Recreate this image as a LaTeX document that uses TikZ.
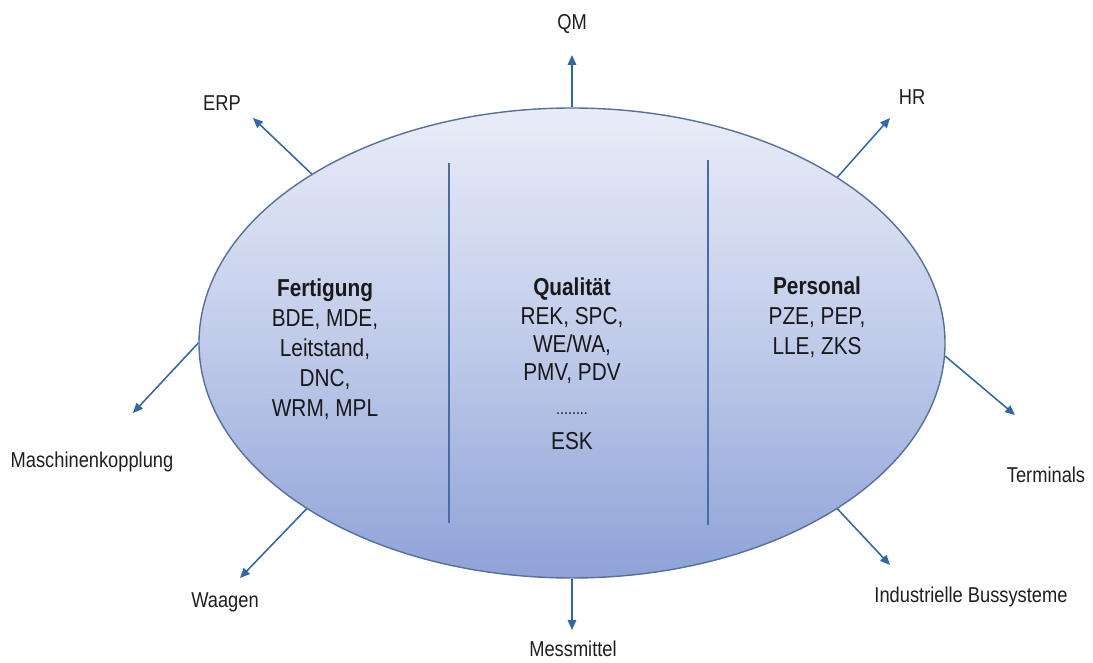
\documentclass[tikz,border=0pt]{standalone}
\usepackage{fontspec}
\setmainfont{Liberation Sans}[FakeStretch=0.85]
\usetikzlibrary{arrows.meta,shapes.geometric}
\definecolor{elltop}{HTML}{E9EDF8}
\definecolor{ellbot}{HTML}{8EA2D8}
\definecolor{ellrim}{HTML}{56709E}
\definecolor{arr}{HTML}{2F68AA}
\definecolor{sep}{HTML}{4A6AA8}
\tikzset{
  lab/.style={font=\fontsize{15.3}{18}\selectfont, inner sep=0pt, anchor=base, text=black!88},
  inn/.style={font=\fontsize{17.4}{20}\selectfont, inner sep=0pt, anchor=base, text=black!90},
  ttl/.style={inn, font=\fontsize{17.4}{20}\selectfont\bfseries},
  conn/.style={draw=arr, line width=1.1pt, -{Triangle[length=7pt,width=6pt]}},
  sepline/.style={draw=sep, line width=1.1pt}
}
\begin{document}
\begin{tikzpicture}[x=0.025cm,y=-0.025cm]
\useasboundingbox (0,0) rectangle (1093,663);
% ellipse
\node[ellipse, minimum width=746*0.025cm, minimum height=470*0.025cm, inner sep=0pt,
      top color=elltop, bottom color=ellbot, middle color=elltop!55!ellbot,
      draw=ellrim, line width=1pt] (ell) at (572,343) {};
% separators
\coordinate (s1a) at (449,163); \coordinate (s1b) at (449,523);
\coordinate (s2a) at (708,160); \coordinate (s2b) at (708,525);
\draw[sepline] (s1a) -- (s1b);
\draw[sepline] (s2a) -- (s2b);
% arrow tips
\coordinate (tQM) at (572,55);
\coordinate (tERP) at (253,118);
\coordinate (tHR) at (890,118);
\coordinate (tMas) at (133,413);
\coordinate (tTer) at (1015,415);
\coordinate (tWaa) at (240,578);
\coordinate (tInd) at (890,565);
\coordinate (tMes) at (572,630);
\draw[conn] (ell.90) -- (tQM);
\draw[conn] (ell.147.5) -- (tERP);
\draw[conn] (ell.32.6) -- (tHR);
\draw[conn] (ell.180) -- (tMas);
\draw[conn] (ell.-2) -- (tTer);
\draw[conn] (ell.212.3) -- (tWaa);
\draw[conn] (ell.-32.9) -- (tInd);
\draw[conn] (ell.270) -- (tMes);
% outer labels
\node[lab] (lQM) at (572,30) {QM};
\node[lab] (lERP) at (222,111) {ERP};
\node[lab] (lHR) at (912,105) {HR};
\node[lab] (lMas) at (92,467) {Maschinenkopplung};
\node[lab] (lTer) at (1046,482) {Terminals};
\node[lab] (lWaa) at (225,607) {Waagen};
\node[lab] (lInd) at (971,602) {Industrielle Bussysteme};
\node[lab] (lMes) at (573,656) {Messmittel};
% Fertigung
\node[ttl] (f0) at (325,296) {Fertigung};
\node[inn] (f1) at (325,326) {BDE, MDE,};
\node[inn] (f2) at (325,356) {Leitstand,};
\node[inn] (f3) at (325,386) {DNC,};
\node[inn] (f4) at (325,416) {WRM, MPL};
% Qualitaet
\node[ttl] (q0) at (572,295) {Qualität};
\node[inn] (q1) at (572,324) {REK, SPC,};
\node[inn] (q2) at (572,352) {WE/WA,};
\node[inn] (q3) at (572,380) {PMV, PDV};
\node[inn, font=\fontsize{12}{14}\selectfont] (q4) at (572,414) {........};
\node[inn] (q5) at (572,449) {ESK};
% Personal
\node[ttl] (p0) at (817,294) {Personal};
\node[inn] (p1) at (817,324) {PZE, PEP,};
\node[inn] (p2) at (817,354) {LLE, ZKS};
\end{tikzpicture}
\end{document}
